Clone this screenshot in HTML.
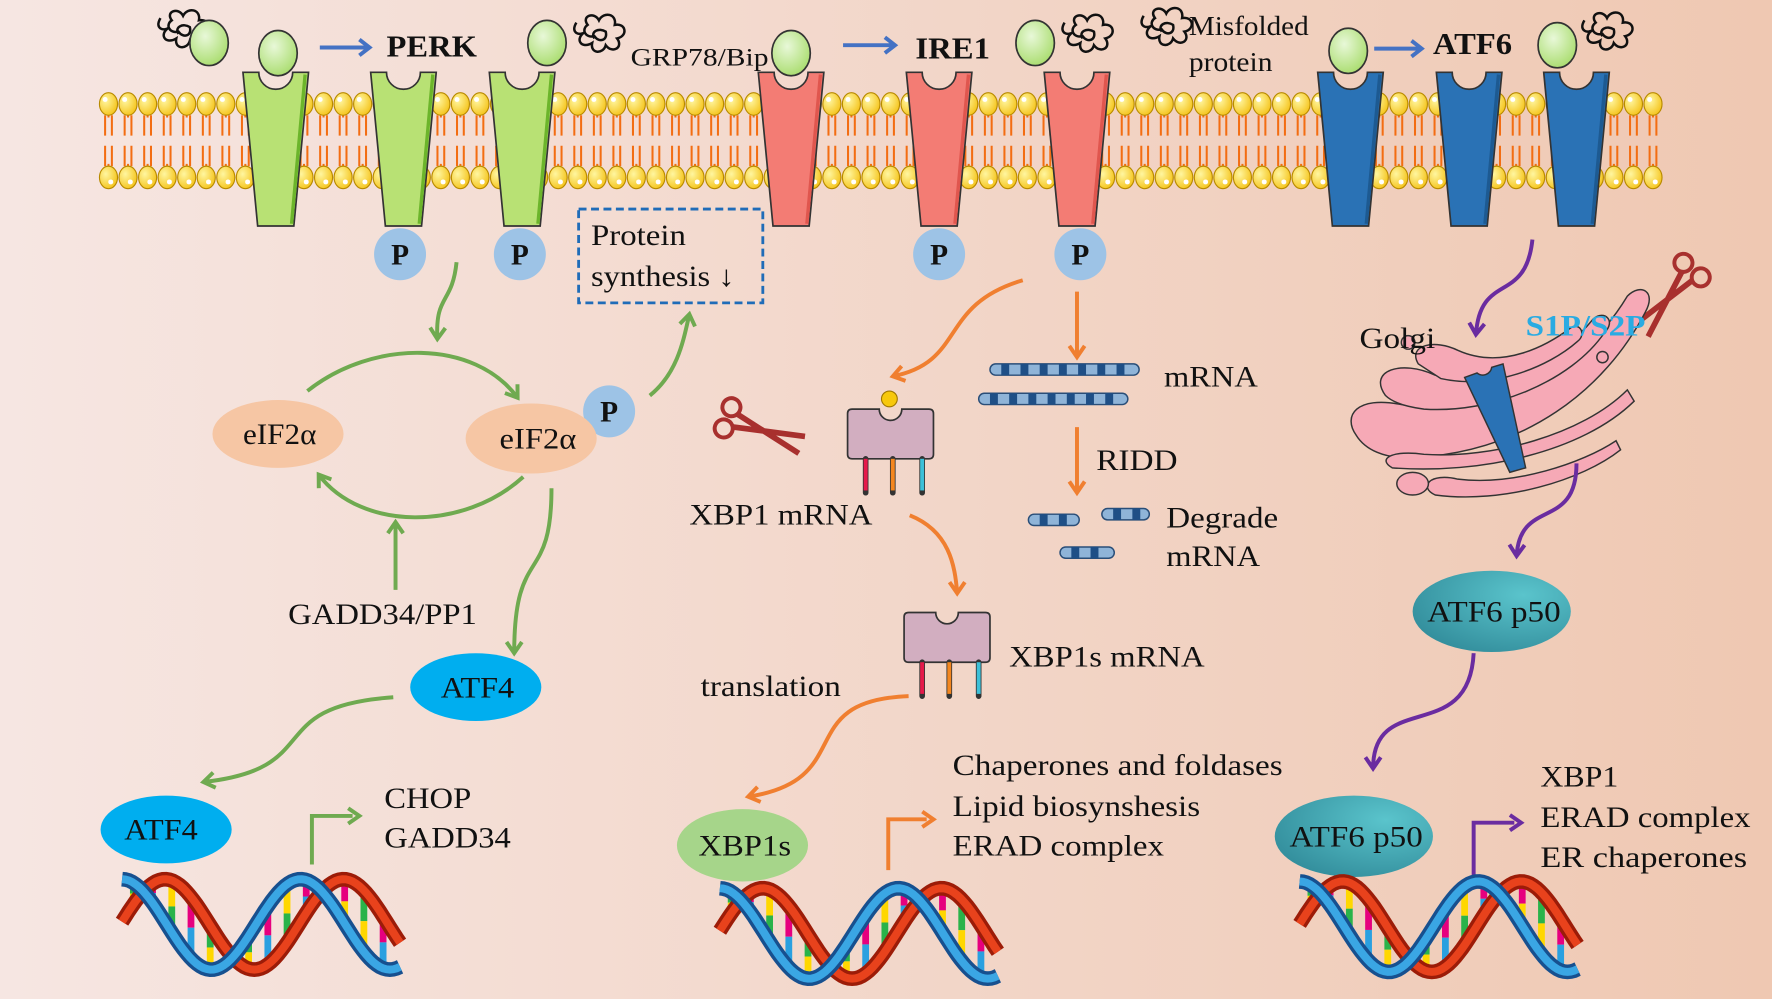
<!DOCTYPE html>
<html><head><meta charset="utf-8"><style>
html,body{margin:0;padding:0;width:1772px;height:999px;overflow:hidden;background:#f3ddd3}
svg{display:block}
text{font-family:"Liberation Serif",serif;fill:#111}
</style></head><body>
<svg id="s" width="1772" height="999" viewBox="0 0 1568 884" preserveAspectRatio="none" xmlns="http://www.w3.org/2000/svg">
<defs>
<linearGradient id="bg" x1="0" x2="1" y1="0" y2="0"><stop offset="0" stop-color="#f6e6e2"/><stop offset="1" stop-color="#efc8b2"/></linearGradient>
<radialGradient id="head" cx="0.35" cy="0.35" r="0.7"><stop offset="0" stop-color="#fff6a0"/><stop offset="1" stop-color="#f5c41c"/></radialGradient>
<radialGradient id="bip" cx="0.4" cy="0.35" r="0.7"><stop offset="0" stop-color="#e8f8d8"/><stop offset="1" stop-color="#a8dc6c"/></radialGradient>
<radialGradient id="teal" cx="0.7" cy="0.3" r="0.9"><stop offset="0" stop-color="#5ac4cc"/><stop offset="1" stop-color="#2e8796"/></radialGradient>
</defs>
<rect width="1568" height="884" fill="url(#bg)"/>
<g id="mem"></g>
<g id="rest"></g>
</svg>
<script>
var s='';
for(var x=96;x<1478;x+=17.3){
 s+='<path d="M'+(x-3)+',102 v18 M'+(x+3)+',102 v18 M'+(x-3)+',147 v-18 M'+(x+3)+',147 v-18 M'+x+',100 v4 M'+x+',149 v-4" stroke="#f36d12" stroke-width="1.8" fill="none"/>';
 s+='<ellipse cx="'+x+'" cy="92" rx="8" ry="10" fill="url(#head)" stroke="#b88a00" stroke-width="1"/><circle cx="'+(x-3)+'" cy="88" r="2.2" fill="#fff"/>';
 s+='<ellipse cx="'+x+'" cy="157" rx="8" ry="10" fill="url(#head)" stroke="#b88a00" stroke-width="1"/><circle cx="'+(x+2)+'" cy="161" r="2.2" fill="#fff"/>';
}
document.getElementById('mem').innerHTML=s;
s='';
function T(x,y,t,w,sz,extra){return '<text x="'+x+'" y="'+y+'" font-size="'+(sz||26)+'" textLength="'+w+'" lengthAdjust="spacingAndGlyphs" '+(extra||'')+'>'+t+'</text>';}
function prot(cx,col,dk){
 return '<path d="M'+(cx-29)+',64 L'+(cx-15)+',64 A14,14 0 0 0 '+(cx+15)+',64 L'+(cx+29)+',64 L'+(cx+16)+',200 L'+(cx-16)+',200 Z" fill="'+col+'" stroke="#333" stroke-width="1.5"/><path d="M'+(cx+26)+',66 L'+(cx+14)+',198" stroke="'+dk+'" stroke-width="3"/>';
}
[244,357,462].forEach(function(c){s+=prot(c,'#b8e174','#6cb52b')});
[700,831,953].forEach(function(c){s+=prot(c,'#f37c74','#e0564e')});
[1195,1300,1395].forEach(function(c){s+=prot(c,'#2a72b5','#1d5a92')});
function bip(x,y){return '<ellipse cx="'+x+'" cy="'+y+'" rx="17" ry="20" fill="url(#bip)" stroke="#333" stroke-width="1.5"/>';}
function scr(x,y){return '<path d="M'+(x-18)+','+(y-14)+' c-6,10 4,12 8,8 c-10,6 -4,16 6,10 c-2,10 10,10 12,2 c6,8 16,2 10,-6 c10,-2 8,-14 -2,-12 c2,-10 -10,-12 -14,-4 c-4,-8 -16,-4 -10,4 c-6,4 -2,12 6,10 c4,6 12,4 10,-4 c-6,-4 -14,0 -10,6" fill="none" stroke="#111" stroke-width="2.2"/>';}
s+=scr(160,30)+bip(185,38)+bip(246,47)+bip(484,38)+scr(528,34)+bip(700,47)+bip(916,38)+scr(960,34)+scr(1030,28)+bip(1193,45)+bip(1378,40)+scr(1420,32);
function barr(x1,x2,y){return '<path d="M'+x1+','+y+' H'+x2+' M'+(x2-9)+','+(y-7)+' L'+x2+','+y+' L'+(x2-9)+','+(y+7)+'" stroke="#4472c4" stroke-width="3.5" fill="none"/>';}
s+=barr(283,327,42)+barr(746,792,40)+barr(1216,1258,43);
function P(x,y){return '<ellipse cx="'+x+'" cy="'+y+'" rx="23" ry="23" fill="#9dc3e6"/><text x="'+x+'" y="'+(y+9)+'" text-anchor="middle" font-size="26" font-weight="bold">P</text>';}
s+=P(354,225)+P(460,225)+P(831,225)+P(956,225)+P(539,364);
s+=T(342,50,'PERK',80,27,'font-weight="bold"')+T(810,52,'IRE1',66,27,'font-weight="bold"')+T(1268,48,'ATF6',70,27,'font-weight="bold"');
s+=T(558,58,'GRP78/Bip',122,22)+T(1052,31,'Misfolded',106,24)+T(1052,63,'protein',74,24);
s+='<rect x="512" y="185" width="163" height="83" fill="none" stroke="#1f6cb8" stroke-width="2.5" stroke-dasharray="7,4"/>'+T(523,217,'Protein',84)+T(523,253,'synthesis ↓',127);
var G='fill="none" stroke="#6faa50" stroke-width="3.5"';
function gh(x,y,a){var r=a*Math.PI/180,l=12,w=0.6;
 var x1=x-l*Math.cos(r-w),y1=y-l*Math.sin(r-w),x2=x-l*Math.cos(r+w),y2=y-l*Math.sin(r+w);
 return 'M'+x1.toFixed(1)+','+y1.toFixed(1)+' L'+x+','+y+' L'+x2.toFixed(1)+','+y2.toFixed(1);}
s+='<path d="M404,232 C400,270 385,260 387,300 '+gh(387,300,92)+'" '+G+'/>';
s+='<path d="M272,346 C330,300 420,300 458,352 '+gh(458,352,55)+'" '+G+'/>';
s+='<path d="M463,422 C410,470 320,470 282,420 '+gh(282,420,-125)+'" '+G+'/>';
s+='<path d="M350,522 V462 '+gh(350,462,-90)+'" '+G+'/>';
s+='<path d="M575,350 C600,330 605,300 610,278 '+gh(610,278,-80)+'" '+G+'/>';
s+='<path d="M488,432 C488,520 455,480 455,578 '+gh(455,578,90)+'" '+G+'/>';
s+='<path d="M348,617 C230,625 290,680 180,692 '+gh(180,692,170)+'" '+G+'/>';
s+='<path d="M276,765 V722 H312 '+gh(318,722,0)+'" '+G+'/>';
s+='<ellipse cx="246" cy="384" rx="58" ry="30" fill="#f6c6a4"/>'+T(215,393,'eIF2α',65);
s+='<ellipse cx="470" cy="388" rx="58" ry="31" fill="#f6c6a4"/>'+T(442,397,'eIF2α',68);
s+=T(255,552,'GADD34/PP1',167);
s+='<ellipse cx="421" cy="608" rx="58" ry="30" fill="#00aeef"/>'+T(390,617,'ATF4',65);
s+='<ellipse cx="147" cy="734" rx="58" ry="30" fill="#00aeef"/>'+T(110,743,'ATF4',65);
s+=T(340,715,'CHOP',77)+T(340,750,'GADD34',112);
var O='fill="none" stroke="#f07f30" stroke-width="3.5"';
s+='<path d="M905,248 C830,270 855,320 790,333 '+gh(790,333,165)+'" '+O+'/>';
s+='<path d="M953,258 V316 '+gh(953,316,90)+'" '+O+'/>';
s+='<path d="M953,378 V436 '+gh(953,436,90)+'" '+O+'/>';
s+='<path d="M805,456 C840,470 845,500 847,525 '+gh(847,525,90)+'" '+O+'/>';
s+='<path d="M804,616 C700,620 760,690 662,705 '+gh(662,705,168)+'" '+O+'/>';
s+='<path d="M786,770 V725 H820 '+gh(826,725,0)+'" '+O+'/>';
function xbp(x,y){
 return '<path d="M'+x+','+(y+4)+' q0,-4 4,-4 h24 a10,10 0 0 0 20,0 h24 q4,0 4,4 v36 q0,4 -4,4 h-68 q-4,0 -4,-4z" fill="#d2aec0" stroke="#333" stroke-width="1.5"/>'+
 '<path d="M'+(x+16)+','+(y+44)+' v30 M'+(x+40)+','+(y+44)+' v30 M'+(x+66)+','+(y+44)+' v30" stroke-width="5" stroke-linecap="round" fill="none" stroke="#333"/>'+
 '<path d="M'+(x+16)+','+(y+44)+' v28" stroke="#e5194a" stroke-width="3.5"/><path d="M'+(x+40)+','+(y+44)+' v28" stroke="#f3861f" stroke-width="3.5"/><path d="M'+(x+66)+','+(y+44)+' v28" stroke="#3cc0d8" stroke-width="3.5"/>';}
s+=xbp(750,362)+'<circle cx="787" cy="353" r="7" fill="#f7c80c" stroke="#a07800"/>'+xbp(800,542);
function sci(x,y,rot){return '<g transform="translate('+x+','+y+') rotate('+rot+')"><circle cx="-30" cy="-10" r="8" fill="none" stroke="#a8302e" stroke-width="3.5"/><circle cx="-30" cy="10" r="8" fill="none" stroke="#a8302e" stroke-width="3.5"/><path d="M-23,-6 L40,8 M-23,6 L40,-8" stroke="#a8302e" stroke-width="5"/></g>';}
s+=sci(672,380,20)+sci(1478,262,130);
s+=T(610,464,'XBP1 mRNA',162)+T(893,590,'XBP1s mRNA',173)+T(620,616,'translation',124);
function strand(x,y,w){var r='<rect x="'+x+'" y="'+y+'" width="'+w+'" height="10" rx="5" fill="#8fb4d8" stroke="#2a4e78" stroke-width="1.3"/>';for(var i=x+10;i<x+w-6;i+=17)r+='<rect x="'+i+'" y="'+y+'" width="7" height="10" fill="#1f4f86"/>';return r;}
s+=strand(876,322,132)+strand(866,348,132)+strand(910,455,45)+strand(975,450,42)+strand(938,484,48);
s+=T(1030,342,'mRNA',83)+T(970,416,'RIDD',72)+T(1032,467,'Degrade',99)+T(1032,501,'mRNA',83);
s+='<ellipse cx="657" cy="748" rx="58" ry="32" fill="#a6d58a"/>'+T(618,757,'XBP1s',82);
s+=T(843,686,'Chaperones and foldases',292)+T(843,722,'Lipid biosynshesis',219)+T(843,757,'ERAD complex',187);
var gp='fill="#f6a9b6" stroke="#333" stroke-width="1.3"';
s+='<path d="M1200,385 C1188,368 1200,350 1240,358 C1300,368 1390,345 1440,262 C1452,250 1466,258 1456,276 C1420,345 1350,400 1250,405 C1225,406 1208,398 1200,385Z" '+gp+'/>';
s+='<path d="M1226,350 C1210,328 1240,318 1270,332 C1320,345 1380,320 1410,282 C1420,274 1430,284 1420,294 C1390,338 1320,366 1260,362 C1245,360 1232,356 1226,350Z" '+gp+'/>';
s+='<path d="M1255,322 C1245,305 1270,300 1290,310 C1330,328 1370,305 1390,290 C1398,285 1404,296 1396,302 C1370,325 1320,345 1275,335Z" '+gp+'/>';
s+='<path d="M1232,414 C1218,406 1232,398 1260,402 C1320,406 1400,385 1440,345 L1446,355 C1400,400 1310,420 1232,414Z" '+gp+'/>';
s+='<path d="M1270,438 C1255,431 1265,418 1290,424 C1340,430 1400,410 1430,390 L1434,398 C1400,425 1330,446 1270,438Z" '+gp+'/>';
s+='<ellipse cx="1250" cy="428" rx="14" ry="10" '+gp+'/><circle cx="1246" cy="303" r="6" '+gp+'/><circle cx="1418" cy="316" r="5" '+gp+'/>';
s+='<path d="M1296,334 L1307,330 A8,8 0 0 0 1320,325 L1330,322 L1350,414 L1336,418Z" fill="#2a72b5" stroke="#333" stroke-width="1.3"/>';
s+=T(1203,308,'Golgi',67)+T(1350,297,'S1P/S2P',106,26,'font-weight="bold" style="fill:#29abe2"');
var Pp='fill="none" stroke="#6a2ca0" stroke-width="3.5"';
s+='<path d="M1356,212 C1350,270 1310,240 1306,296 '+gh(1306,296,95)+'" '+Pp+'/>';
s+='<path d="M1395,410 C1395,470 1345,440 1342,492 '+gh(1342,492,92)+'" '+Pp+'/>';
s+='<path d="M1304,578 C1300,660 1215,610 1215,680 '+gh(1215,680,90)+'" '+Pp+'/>';
s+='<path d="M1304,775 V728 H1340 '+gh(1346,728,0)+'" '+Pp+'/>';
s+='<ellipse cx="1320" cy="541" rx="70" ry="36" fill="url(#teal)"/>'+T(1263,550,'ATF6 p50',118);
s+='<ellipse cx="1198" cy="740" rx="70" ry="36" fill="url(#teal)"/>'+T(1141,749,'ATF6 p50',118);
s+=T(1363,696,'XBP1',69)+T(1363,732,'ERAD complex',186)+T(1363,767,'ER  chaperones',183);
function dna(x0,y0){
 var r='',cols=[['#2ab34a','#ffd700'],['#e6007e','#2aa0e0'],['#ffd700','#2ab34a'],['#e6007e','#2aa0e0'],['#2ab34a','#ffd700'],['#e6007e','#ffd700']];
 var W=248,H=80,per=158;
 function yB(x){return y0+H/2-H/2*Math.cos(x/per*2*Math.PI);}
 function yA(x){return y0+H/2-H/2*Math.cos((x-38)/per*2*Math.PI);}
 for(var x=10,i=0;x<W-4;x+=17,i++){var a=yA(x),b=yB(x),t=Math.min(a,b)+4,bt=Math.max(a,b)-4;if(bt-t<8)continue;var m=(t+bt)/2;var c=cols[i%6];
  r+='<line x1="'+(x0+x)+'" y1="'+t.toFixed(1)+'" x2="'+(x0+x)+'" y2="'+m.toFixed(1)+'" stroke="'+c[0]+'" stroke-width="6"/><line x1="'+(x0+x)+'" y1="'+m.toFixed(1)+'" x2="'+(x0+x)+'" y2="'+bt.toFixed(1)+'" stroke="'+c[1]+'" stroke-width="6"/>';}
 var pa='',pb='';
 for(var x=0;x<=W;x+=3){pa+=(x?'L':'M')+(x0+x)+','+yA(x).toFixed(1)+' ';pb+=(x?'L':'M')+(x0+x)+','+yB(x).toFixed(1)+' ';}
 r+='<path d="'+pa+'" fill="none" stroke="#9c1c08" stroke-width="13"/><path d="'+pa+'" fill="none" stroke="#e8421c" stroke-width="7"/>';
 r+='<path d="'+pb+'" fill="none" stroke="#17508f" stroke-width="13"/><path d="'+pb+'" fill="none" stroke="#3aa6e4" stroke-width="7"/>';
 return r;}
s+=dna(108,778)+dna(637,786)+dna(1150,780);
document.getElementById('rest').innerHTML=s;
</script>
</body></html>
